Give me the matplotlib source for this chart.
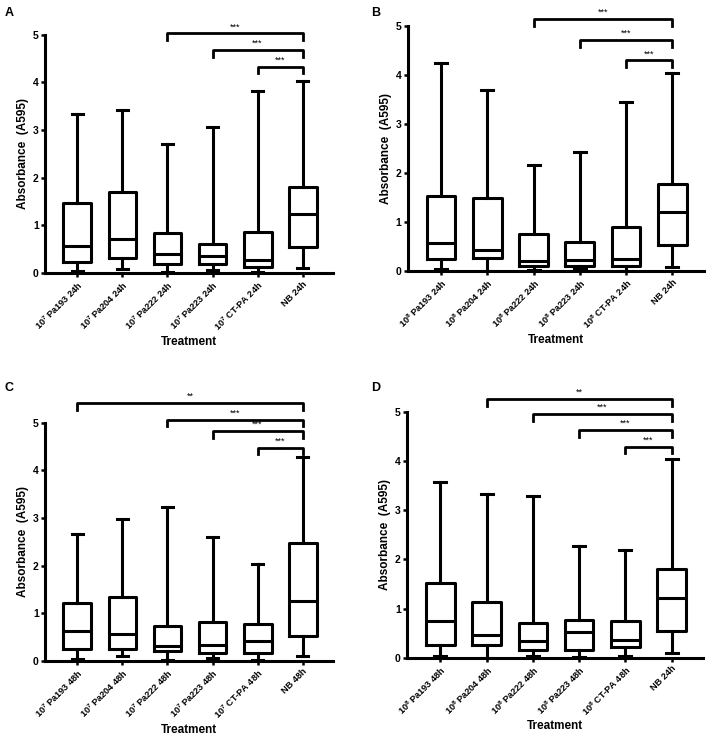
import matplotlib
matplotlib.use("Agg")
import matplotlib.pyplot as plt

plt.rcParams['font.family'] = ['Liberation Sans', 'DejaVu Sans']
plt.rcParams['font.weight'] = 'bold'
plt.rcParams['mathtext.default'] = 'bf'
plt.rcParams['mathtext.fontset'] = 'custom'
plt.rcParams['mathtext.bf'] = 'Liberation Sans:bold'

# five-number summaries (min, q1, median, q3, max)
labels_a = ['10$^{7}$ Pa193 24h', '10$^{7}$ Pa204 24h', '10$^{7}$ Pa222 24h',
            '10$^{7}$ Pa223 24h', '10$^{7}$ CT-PA 24h', 'NB 24h']
min_a = [0.05, 0.09, 0.03, 0.06, 0.03, 0.10]
q1_a = [0.24, 0.32, 0.19, 0.19, 0.12, 0.55]
med_a = [0.56, 0.71, 0.40, 0.36, 0.27, 1.23]
q3_a = [1.46, 1.71, 0.83, 0.60, 0.87, 1.81]
max_a = [3.33, 3.42, 2.71, 3.07, 3.83, 4.03]

labels_b = ['10$^{8}$ Pa193 24h', '10$^{8}$ Pa204 24h', '10$^{8}$ Pa222 24h',
            '10$^{8}$ Pa223 24h', '10$^{8}$ CT-PA 24h', 'NB 24h']
min_b = [0.04, 0.01, 0.02, 0.05, 0.01, 0.09]
q1_b = [0.24, 0.26, 0.10, 0.10, 0.10, 0.54]
med_b = [0.57, 0.44, 0.20, 0.22, 0.24, 1.21]
q3_b = [1.54, 1.50, 0.77, 0.59, 0.91, 1.79]
max_b = [4.25, 3.71, 2.18, 2.43, 3.46, 4.04]

labels_c = ['10$^{7}$ Pa193 48h', '10$^{7}$ Pa204 48h', '10$^{7}$ Pa222 48h',
            '10$^{7}$ Pa223 48h', '10$^{7}$ CT-PA 48h', 'NB 48h']
min_c = [0.04, 0.10, 0.03, 0.07, 0.03, 0.11]
q1_c = [0.26, 0.25, 0.21, 0.16, 0.17, 0.53]
med_c = [0.62, 0.57, 0.32, 0.34, 0.42, 1.25]
q3_c = [1.22, 1.34, 0.74, 0.81, 0.77, 2.47]
max_c = [2.66, 2.98, 3.23, 2.61, 2.03, 4.29]

labels_d = ['10$^{8}$ Pa193 48h', '10$^{8}$ Pa204 48h', '10$^{8}$ Pa222 48h',
            '10$^{8}$ Pa223 48h', '10$^{8}$ CT-PA 48h', 'NB 24h']
min_d = [0.03, 0.00, 0.03, 0.01, 0.03, 0.09]
q1_d = [0.26, 0.26, 0.15, 0.15, 0.21, 0.55]
med_d = [0.74, 0.47, 0.34, 0.52, 0.37, 1.22]
q3_d = [1.51, 1.14, 0.71, 0.77, 0.75, 1.81]
max_d = [3.57, 3.32, 3.28, 2.27, 2.18, 4.04]

# significance brackets: (start group, height, stars), all end at NB
sig_a = [(2, 5.03, '***'), (3, 4.68, '***'), (4, 4.33, '***')]
sig_b = [(2, 5.15, '***'), (3, 4.72, '***'), (4, 4.31, '***')]
sig_c = [(0, 5.42, '**'), (2, 5.07, '***'), (3, 4.83, '***'), (4, 4.48, '***')]
sig_d = [(1, 5.26, '**'), (2, 4.95, '***'), (3, 4.63, '***'), (4, 4.29, '***')]


def draw_panel(ax, labels, mins, q1s, meds, q3s, maxs, sigs):
    stats = []
    for lab, lo, a, m, b, hi in zip(labels, mins, q1s, meds, q3s, maxs):
        stats.append({'label': lab, 'whislo': lo, 'q1': a, 'med': m,
                      'q3': b, 'whishi': hi, 'fliers': []})
    lw = 2.2
    ax.bxp(stats, positions=range(len(stats)), widths=0.62, capwidths=0.26,
           showfliers=False,
           boxprops=dict(color='black', linewidth=lw),
           whiskerprops=dict(color='black', linewidth=lw),
           capprops=dict(color='black', linewidth=lw),
           medianprops=dict(color='black', linewidth=lw))
    ax.set_xlim(-0.72, len(stats) - 0.32)
    ax.set_ylim(0, 5)
    ax.set_yticks(range(6))
    ax.spines['top'].set_visible(False)
    ax.spines['right'].set_visible(False)
    ax.spines['left'].set_linewidth(2.2)
    ax.spines['bottom'].set_linewidth(2.2)
    ax.tick_params(axis='both', width=1.8, length=3, labelsize=7.5, pad=1.5)
    ax.set_xticks(range(len(stats)))
    ax.set_xticklabels(labels, rotation=45, ha='right', rotation_mode='anchor',
                       fontsize=6.6)
    ax.set_ylabel('Absorbance  (A595)', fontsize=8.5, fontweight='bold',
                  labelpad=3)
    ax.set_xlabel('Treatment', fontsize=8.5, fontweight='bold', labelpad=2)
    end = len(stats) - 1
    drop = 0.14
    for start, h, stars in sigs:
        ax.plot([start, start, end, end], [h - drop, h, h, h - drop],
                color='black', linewidth=2.0, clip_on=False)
        ax.text((start + end) / 2, h + 0.04, stars, ha='center', va='bottom',
                fontsize=6.5, fontweight='normal')


fig = plt.figure(figsize=(7.08, 7.35), dpi=100)
ax_a = fig.add_axes([0.0636, 0.6286, 0.407, 0.324])
ax_b = fig.add_axes([0.576, 0.631, 0.418, 0.333])
ax_c = fig.add_axes([0.0636, 0.1007, 0.407, 0.324])
ax_d = fig.add_axes([0.575, 0.105, 0.418, 0.335])

draw_panel(ax_a, labels_a, min_a, q1_a, med_a, q3_a, max_a, sig_a)
draw_panel(ax_b, labels_b, min_b, q1_b, med_b, q3_b, max_b, sig_b)
draw_panel(ax_c, labels_c, min_c, q1_c, med_c, q3_c, max_c, sig_c)
draw_panel(ax_d, labels_d, min_d, q1_d, med_d, q3_d, max_d, sig_d)

fig.text(0.006, 0.982, 'A', fontsize=9, fontweight='bold', va='center')
fig.text(0.524, 0.982, 'B', fontsize=9, fontweight='bold', va='center')
fig.text(0.006, 0.472, 'C', fontsize=9, fontweight='bold', va='center')
fig.text(0.524, 0.472, 'D', fontsize=9, fontweight='bold', va='center')

fig.savefig('out.png', dpi=100)
